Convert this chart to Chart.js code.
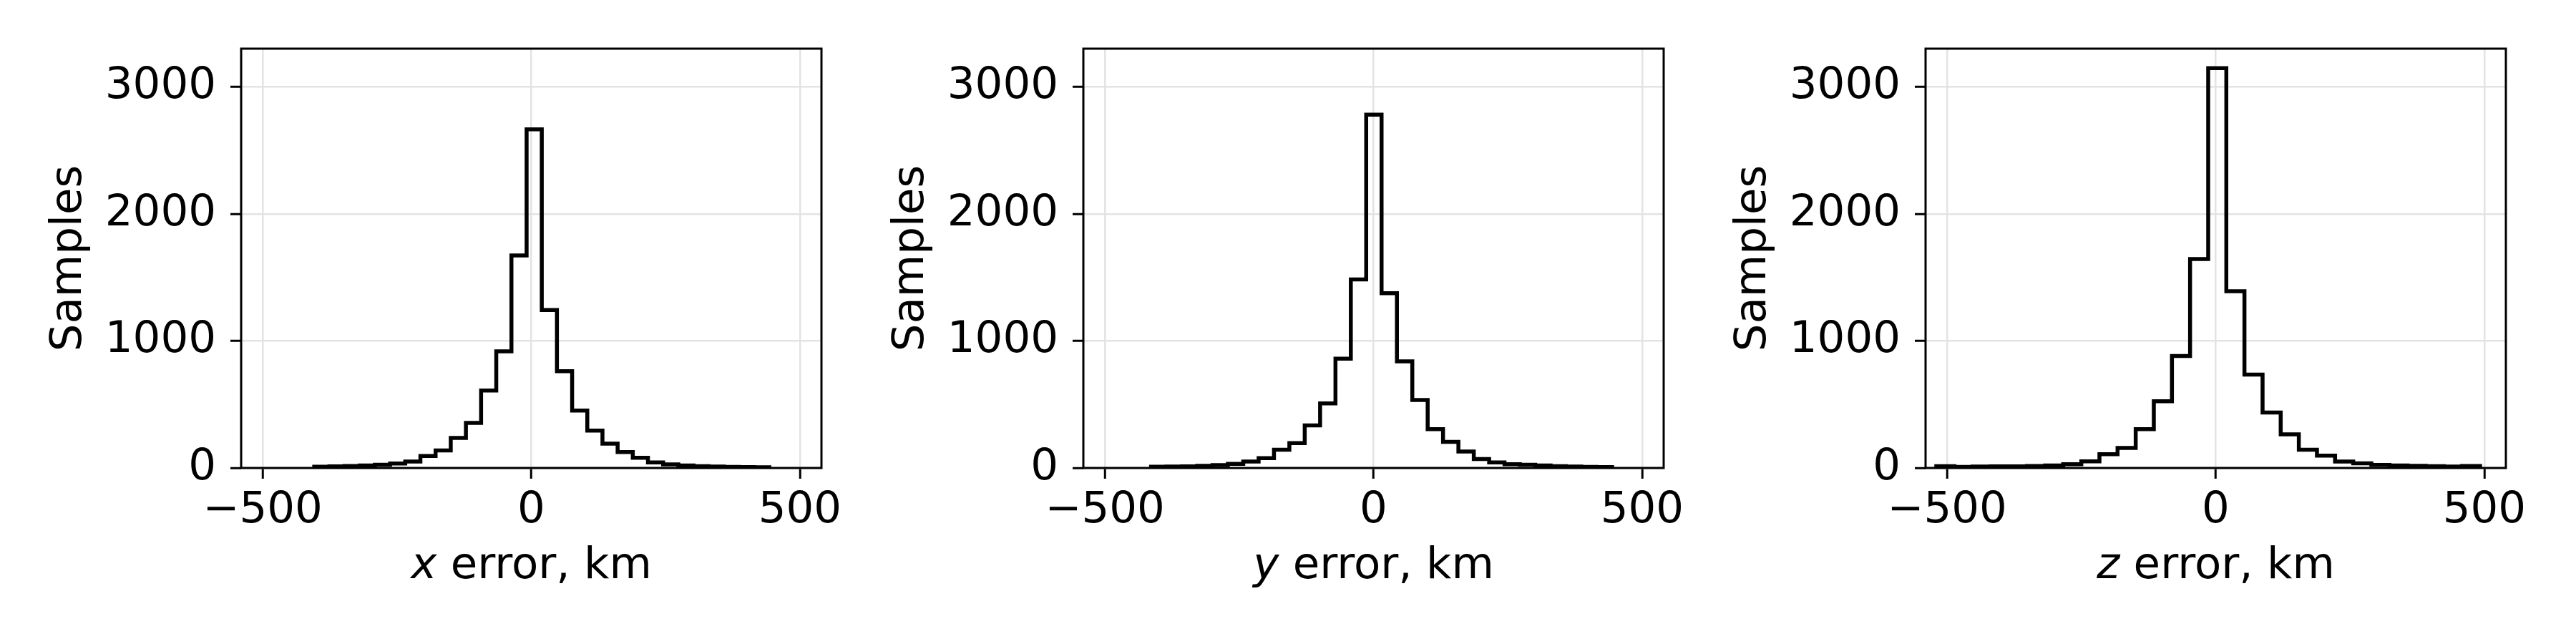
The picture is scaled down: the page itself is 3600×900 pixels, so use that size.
<!DOCTYPE html>
<html>
<head>
<meta charset="utf-8">
<script src="https://cdn.jsdelivr.net/npm/chart.js@4.4.1/dist/chart.umd.min.js"></script>
<style>
html, body { margin: 0; padding: 0; background: #fff; }
#wrap { position: relative; width: 3600px; height: 900px; }
.panel { position: absolute; top: 0; width: 1177px; height: 900px; }
</style>
</head>
<body>
<div id="wrap">
  <div class="panel" style="left:0px"><canvas id="chart1"></canvas></div>
  <div class="panel" style="left:1177px"><canvas id="chart2"></canvas></div>
  <div class="panel" style="left:2354px"><canvas id="chart3"></canvas></div>
</div>
<script>
// histogram counts, 30 bins each
var xCounts = [10, 12, 15, 20, 25, 35, 50, 95, 138, 237, 355, 609, 918, 1673, 2665,
               1243, 761, 452, 294, 191, 125, 80, 43, 28, 20, 14, 11, 9, 7, 6];
var yCounts = [10, 11, 12, 17, 22, 32, 50, 78, 144, 195, 335, 508, 860, 1484, 2781,
               1376, 839, 535, 305, 206, 130, 70, 43, 30, 25, 20, 14, 11, 9, 7];
var zCounts = [14, 9, 11, 12, 13, 16, 20, 30, 52, 108, 158, 305, 525, 882, 1645, 3146,
               1391, 735, 436, 265, 144, 97, 50, 36, 24, 20, 17, 14, 11, 15];

// first and last bin edge (km)
var xRange = [-404, 443];
var yRange = [-414, 444];
var zRange = [-520, 492];

var axisNames = ['x', 'y', 'z'];
var xTicks = [-500, 0, 500];
var yTicks = [0, 1000, 2000, 3000];

var binEdges = function (range, n) {
    var edges = [];
    for (var i = 0; i <= n; ++i) {
        edges.push(range[0] + (range[1] - range[0]) * i / n);
    }
    return edges;
};

var stepPoints = function (counts, range) {
    var n = counts.length;
    var edges = binEdges(range, n);
    var pts = [{x: edges[0], y: 0}];
    for (var i = 0; i < n; ++i) {
        pts.push({x: edges[i], y: counts[i]});
    }
    pts.push({x: edges[n], y: counts[n - 1]});
    pts.push({x: edges[n], y: 0});
    return pts;
};

var FONT = 'DejaVu Sans';
var SIZE = 61;

var frame = {
    id: 'frame',
    afterDraw: function (chart) {
        var a = chart.chartArea, c = chart.ctx;
        c.save();
        c.strokeStyle = '#000';
        c.lineWidth = 3;
        c.strokeRect(a.left, a.top, a.right - a.left, a.bottom - a.top);
        c.restore();
    }
};

// x label with an italic variable name
var xTitle = {
    id: 'xTitle',
    afterDraw: function (chart, args, opts) {
        var a = chart.chartArea, c = chart.ctx;
        var rest = ' error, km';
        var it = 'italic ' + SIZE + 'px "' + FONT + '"';
        var up = SIZE + 'px "' + FONT + '"';
        c.save();
        c.fillStyle = '#000';
        c.textBaseline = 'alphabetic';
        c.textAlign = 'left';
        c.font = it;
        var w1 = c.measureText(opts.name).width;
        c.font = up;
        var w2 = c.measureText(rest).width;
        var x0 = (a.left + a.right) / 2 - (w1 + w2) / 2;
        c.font = it;
        c.fillText(opts.name, x0, 808);
        c.font = up;
        c.fillText(rest, x0 + w1, 808);
        c.restore();
    }
};

var tickLabel = function (v) {
    return v < 0 ? '\u2212' + Math.abs(v) : '' + v;
};

var makeChart = function (id, counts, range, name) {
    var ctx = document.getElementById(id).getContext('2d');
    return new Chart(ctx, {
        type: 'line',
        data: {
            datasets: [{
                data: stepPoints(counts, range),
                stepped: true,
                borderColor: '#000',
                borderWidth: 5.5,
                pointRadius: 0,
                fill: false,
                clip: 0,
                borderJoinStyle: 'miter',
                borderCapStyle: 'butt'
            }]
        },
        options: {
            responsive: true,
            maintainAspectRatio: false,
            animation: false,
            layout: {padding: {left: 0, right: 29, top: 68, bottom: 0}},
            plugins: {
                legend: {display: false},
                tooltip: {enabled: false},
                xTitle: {name: name}
            },
            scales: {
                x: {
                    type: 'linear',
                    min: -540,
                    max: 540,
                    afterBuildTicks: function (s) {
                        s.ticks = xTicks.map(function (v) { return {value: v}; });
                    },
                    afterFit: function (s) {
                        s.height = 246;
                        s.paddingLeft = 0;
                        s.paddingRight = 0;
                    },
                    grid: {color: '#e3e3e3', lineWidth: 2.5, tickLength: 15, tickColor: '#000', tickWidth: 3},
                    border: {display: false},
                    ticks: {
                        font: {family: FONT, size: SIZE},
                        color: '#000',
                        padding: 9,
                        maxRotation: 0,
                        autoSkip: false,
                        callback: tickLabel
                    }
                },
                y: {
                    min: 0,
                    max: 3300,
                    afterBuildTicks: function (s) {
                        s.ticks = yTicks.map(function (v) { return {value: v}; });
                    },
                    afterFit: function (s) {
                        s.width = 337;
                        s.paddingTop = 0;
                        s.paddingBottom = 0;
                    },
                    grid: {color: '#e3e3e3', lineWidth: 2.5, tickLength: 15, tickColor: '#000', tickWidth: 3},
                    border: {display: false},
                    ticks: {
                        font: {family: FONT, size: SIZE},
                        color: '#000',
                        padding: 20,
                        autoSkip: false,
                        callback: tickLabel
                    },
                    title: {
                        display: true,
                        text: 'Samples',
                        color: '#000',
                        font: {family: FONT, size: SIZE},
                        padding: {top: 61, bottom: 0}
                    }
                }
            }
        },
        plugins: [frame, xTitle]
    });
};

makeChart('chart1', xCounts, xRange, axisNames[0]);
makeChart('chart2', yCounts, yRange, axisNames[1]);
makeChart('chart3', zCounts, zRange, axisNames[2]);
</script>
</body>
</html>
